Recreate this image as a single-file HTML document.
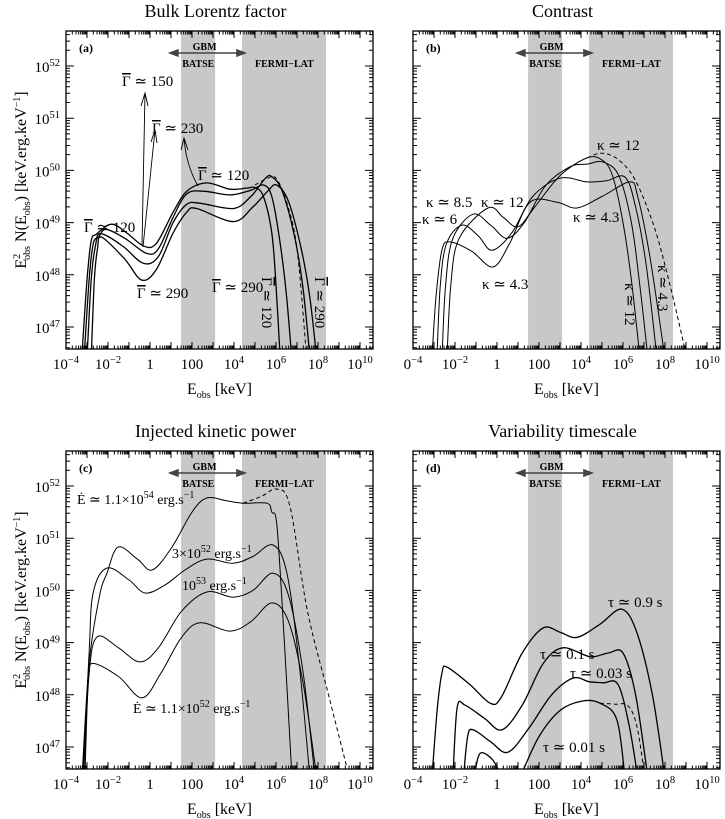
<!DOCTYPE html>
<html><head><meta charset="utf-8"><style>
html,body{margin:0;padding:0;background:#fff}
svg{display:block;font-family:"Liberation Serif",serif}
</style></head><body>
<svg id="fig" width="725" height="819" viewBox="0 0 725 819" xmlns="http://www.w3.org/2000/svg"></svg>
<script>
// ---- data (log10 E [keV], log10 E^2 N) ----
const bandBatse = [1.48, 3.10];
const bandFermi = [4.38, 8.38];
const xTickLabels = [-4,-2,0,2,4,6,8,10];
const yTickLabels = [47,48,49,50,51,52];

// panel a
const aG120E = [-3.25,-3.0,-2.8,-2.55,-1.83,-1.1,-0.3,0.3,1.1,1.75,2.7,3.8,4.6,5.0,5.4,5.8,6.0,6.2];
const aG120Y = [46.4,47.9,48.65,48.78,48.97,48.8,48.55,48.6,49.2,49.6,49.76,49.64,49.66,49.67,49.5,48.8,47.8,46.4];
const aG150E = [-3.14,-2.9,-2.7,-2.45,-2.1,-1.2,-0.16,0.4,1.1,1.75,2.6,3.8,4.8,5.4,5.8,6.2,6.5,6.75];
const aG150Y = [46.4,47.9,48.6,48.72,48.87,48.7,48.41,48.5,49.1,49.55,49.6,49.53,49.62,49.72,49.5,48.6,47.6,46.4];
const aG230E = [-3.0,-2.8,-2.6,-2.35,-1.3,-0.32,0.4,1.1,1.75,2.4,3.97,4.8,5.5,5.8,6.3,6.9,7.3,7.62];
const aG230Y = [46.4,47.9,48.55,48.79,48.55,48.22,48.35,49.0,49.35,49.37,49.27,49.5,49.85,49.88,49.6,48.7,47.7,46.4];
const aG290E = [-2.8,-2.65,-2.5,-2.3,-1.2,-0.4,0.3,1.1,1.75,2.22,3.97,4.9,5.6,6.03,6.6,7.2,7.6,7.94];
const aG290Y = [46.4,47.9,48.5,48.72,48.3,47.9,48.1,48.8,49.2,49.27,49.02,49.3,49.6,49.72,49.4,48.5,47.6,46.4];
const aDashE = [5.0,5.6,6.0,6.5,7.0,7.46];
const aDashY = [49.72,49.85,49.85,49.4,48.5,46.4];

// panel b
const bK43E = [-3.1,-2.9,-2.62,-2.24,-1.2,-0.19,0.6,1.57,2.86,3.81,5.0,6.33,6.7,7.3,8.0];
const bK43Y = [46.4,47.6,48.48,48.63,48.45,48.15,48.6,49.39,49.39,49.28,49.5,49.78,49.5,48.3,46.4];
const bK6E = [-2.86,-2.7,-2.4,-1.67,-0.9,-0.24,0.7,1.7,3.0,4.29,5.2,6.1,6.6,7.1,7.62];
const bK6Y = [46.4,47.8,48.6,48.95,48.75,48.47,48.8,49.5,49.85,49.78,49.8,49.87,49.3,48.2,46.4];
const bK85E = [-2.62,-2.45,-2.1,-1.14,-0.3,0.48,1.3,2.3,3.48,4.3,5.05,5.8,6.4,6.8,7.19];
const bK85Y = [46.4,47.8,48.7,49.16,48.95,48.7,49.0,49.7,50.07,50.12,50.16,49.9,49.0,47.8,46.4];
const bK12E = [-2.38,-2.2,-1.8,-0.43,0.3,1.0,1.8,3.0,4.29,5.0,5.5,6.0,6.4,6.81];
const bK12Y = [46.4,47.8,48.7,49.28,49.1,48.92,49.3,49.9,50.24,50.2,49.9,49.0,47.9,46.4];
const bDashE = [4.29,5.0,5.8,6.6,7.5,8.3,9.05];
const bDashY = [50.24,50.33,50.2,49.8,48.9,47.7,46.4];

// panel c
const cE54E = [-3.24,-2.9,-2.4,-2.05,-1.52,-0.6,0.1,1.0,2.0,2.7,3.6,4.43,5.57,5.8,6.05,6.4,6.76];
const cE54Y = [46.4,48.6,49.9,50.33,50.83,50.6,50.39,50.8,51.5,51.77,51.72,51.67,51.67,51.5,51.21,49.0,46.4];
const c3e52E = [-3.2,-2.9,-2.71,-2.05,-1.0,-0.24,0.7,1.7,2.71,3.95,4.9,5.86,6.52,7.1,7.62];
const c3e52Y = [46.4,48.8,49.95,50.43,50.2,49.95,50.1,50.4,50.6,50.52,50.65,50.87,50.33,48.6,46.4];
const c1e53E = [-3.16,-2.9,-2.52,-1.5,-0.48,0.4,1.5,2.71,3.95,4.9,5.86,6.6,7.3,7.86];
const c1e53Y = [46.4,48.4,49.11,48.9,48.63,48.9,49.6,49.97,49.87,50.0,50.33,49.9,48.4,46.4];
const c11e52E = [-3.1,-2.95,-2.76,-1.5,-0.38,0.5,1.5,2.38,3.81,4.8,5.81,6.6,7.3,7.95];
const c11e52Y = [46.4,48.2,48.6,48.35,47.94,48.4,49.1,49.38,49.22,49.4,49.76,49.4,48.2,46.4];
const cDashE = [4.43,5.3,6.05,6.67,7.5,8.5,9.38];
const cDashY = [51.67,51.8,51.94,51.6,49.6,48.0,46.6];

// panel d
const dT09E = [-3.1,-2.85,-2.62,-2.38,-1.3,-0.33,0.2,1.2,2.19,3.0,3.81,4.9,5.95,6.67,7.4,8.0];
const dT09Y = [46.4,47.7,48.42,48.53,48.2,47.84,47.95,48.8,49.28,49.2,49.1,49.35,49.64,49.18,48.0,46.4];
const dT01E = [-2.1,-1.9,-1.52,-0.6,0.24,1.2,2.2,3.14,4.43,5.3,6.0,6.6,7.19];
const dT01Y = [46.4,47.75,47.8,47.55,47.33,47.8,48.6,48.9,48.73,48.8,48.8,48.0,46.4];
const dT003E = [-1.6,-1.4,-1.14,-0.3,0.52,1.5,2.6,3.62,4.4,5.05,5.76,6.3,6.71];
const dT003Y = [46.4,47.2,47.33,47.1,46.9,47.35,48.0,48.32,48.25,48.23,48.2,47.4,46.4];
const dT001aE = [-1.1,-0.9,-0.67,-0.2,0.14];
const dT001aY = [46.4,46.8,46.89,46.75,46.5];
const dT001bE = [1.19,2.0,3.0,4.05,4.9,5.71,6.1];
const dT001bY = [46.5,47.2,47.7,47.88,47.84,47.52,46.4];
const dDashE = [4.9,5.6,6.24,6.67,7.05];
const dDashY = [47.84,47.82,47.79,47.38,46.4];

// ---- drawing ----
const NS = "http://www.w3.org/2000/svg";
const svg = document.getElementById('fig');
const PW = 307, PH = 318, XMIN = -4, XSC = 21, YSC = 52.2;
function mk(tag, attrs, parent){ const e=document.createElementNS(NS,tag); for(const k in attrs) e.setAttribute(k,attrs[k]); (parent||svg).appendChild(e); return e; }
function axes(p){
  return { X: v => p.L + (v - XMIN) * XSC, Y: v => p.T + 35 - (v - 52) * YSC };
}
function smoothPath(pts){
  let d = `M${pts[0][0].toFixed(1)},${pts[0][1].toFixed(1)}`;
  for(let i=0;i<pts.length-1;i++){
    const p0=pts[Math.max(0,i-1)],p1=pts[i],p2=pts[i+1],p3=pts[Math.min(pts.length-1,i+2)];
    const c1=[p1[0]+(p2[0]-p0[0])/6,p1[1]+(p2[1]-p0[1])/6];
    const c2=[p2[0]-(p3[0]-p1[0])/6,p2[1]-(p3[1]-p1[1])/6];
    d+=` C${c1[0].toFixed(1)},${c1[1].toFixed(1)} ${c2[0].toFixed(1)},${c2[1].toFixed(1)} ${p2[0].toFixed(1)},${p2[1].toFixed(1)}`;
  }
  return d;
}
function supText(g, x, y, base, sup, anchor, size){
  const t = mk('text',{x:x,y:y,'text-anchor':anchor||'middle','font-size':size||15,fill:'#000'},g);
  t.appendChild(document.createTextNode(base));
  if(sup!==null && sup!==undefined){ const s=mk('tspan',{dy:-6,'font-size':(size||15)*0.7},t); s.textContent=sup; }
  return t;
}
const panels = [
  {id:'a', L:66, T:31, title:'Bulk Lorentz factor', ylab:true, xfirst:'10'},
  {id:'b', L:413, T:31, title:'Contrast', ylab:false, xfirst:'0'},
  {id:'c', L:66, T:451, title:'Injected kinetic power', ylab:true, xfirst:'10'},
  {id:'d', L:413, T:451, title:'Variability timescale', ylab:false, xfirst:'0'}
];
const series = {
  a:[[aG120E,aG120Y,false,1.3],[aG150E,aG150Y,false,1.3],[aG230E,aG230Y,false,1.3],[aG290E,aG290Y,false,1.3],[aDashE,aDashY,true,1]],
  b:[[bK43E,bK43Y,false,1],[bK6E,bK6Y,false,1],[bK85E,bK85Y,false,1],[bK12E,bK12Y,false,1],[bDashE,bDashY,true,1]],
  c:[[cE54E,cE54Y,false,1],[c3e52E,c3e52Y,false,1],[c1e53E,c1e53Y,false,1],[c11e52E,c11e52Y,false,1],[cDashE,cDashY,true,1]],
  d:[[dT09E,dT09Y,false,1.3],[dT01E,dT01Y,false,1.3],[dT003E,dT003Y,false,1.3],[dT001aE,dT001aY,false,1.3],[dT001bE,dT001bY,false,1.3],[dDashE,dDashY,true,1]]
};
const seriesNames = {a:['gamma-120-curve','gamma-150-curve','gamma-230-curve','gamma-290-curve','dashed-curve'],
  b:['kappa-4.3-curve','kappa-6-curve','kappa-8.5-curve','kappa-12-curve','dashed-curve'],
  c:['power-1.1e54-curve','power-3e52-curve','power-1e53-curve','power-1.1e52-curve','dashed-curve'],
  d:['tau-0.9-curve','tau-0.1-curve','tau-0.03-curve','tau-0.01-curve','tau-0.01-tail-curve','dashed-curve']};

panels.forEach(p=>{
  const {X,Y} = axes(p);
  const g = mk('g',{});
  
  
  const R = p.L+PW, B = p.T+PH;
  const tt = mk('text',{x:p.L+PW/2-4,y:p.T-14,'text-anchor':'middle','font-size':18},g);
  tt.textContent = p.title;
  
  
  [bandBatse,bandFermi].forEach((bd,i)=>{
    const r = mk('rect',{x:X(bd[0]),y:p.T,width:X(bd[1])-X(bd[0]),height:PH,fill:'#c8c8c8'},g);
    
    
  });
  const cp = mk('clipPath',{id:'clip'+p.id},g);
  mk('rect',{x:p.L,y:p.T,width:PW,height:PH},cp);
  const cg = mk('g',{'clip-path':`url(#clip${p.id})`},g);
  series[p.id].forEach((s,i)=>{
    const pts = s[0].map((e,k)=>[X(e),Y(s[1][k])]);
    const path = mk('path',{d:smoothPath(pts),fill:'none',stroke:'#000','stroke-width':s[3],'stroke-dasharray':s[2]?'4,3':'none'},cg);
    
    
  });
  const fr = mk('rect',{x:p.L,y:p.T,width:PW,height:PH,fill:'none',stroke:'#000','stroke-width':1.3},g);
  
  
  let td='';
  for(let dec=-4; dec<=10; dec++){
    for(let m=1;m<10;m++){
      const v = dec+Math.log10(m); if(v>XMIN+PW/XSC) break;
      const x=X(v), len = m===1?7:3.5;
      td+=`M${x},${B}v${-len}M${x},${p.T}v${len}`;
    }
  }
  for(let dec=46; dec<=52; dec++){
    for(let m=1;m<10;m++){
      const v=dec+Math.log10(m); const y=Y(v);
      if(y<p.T||y>B) continue;
      const len = m===1?8:4;
      td+=`M${p.L},${y}h${len}M${R},${y}h${-len}`;
    }
  }
  const tk = mk('path',{d:td,stroke:'#000','stroke-width':1,fill:'none'},g);
  
  
  xTickLabels.forEach((v,i)=>{
    let t;
    if(v===0) { t = mk('text',{x:X(v),y:B+20,'text-anchor':'middle','font-size':15},g); t.textContent='1'; }
    else if(v===2) { t = mk('text',{x:X(v),y:B+20,'text-anchor':'middle','font-size':15},g); t.textContent='100'; }
    else { t = supText(g, X(v), B+20, (i===0?p.xfirst:'10'), (v<0?'\u2212'+(-v):String(v)), 'middle', 15); }
    
    
  });
  const xt = mk('text',{x:p.L+PW/2,y:B+45,'text-anchor':'middle','font-size':16},g);
  xt.appendChild(document.createTextNode('E'));
  const xs = mk('tspan',{dy:4,'font-size':10},xt); xs.textContent='obs';
  const xr = mk('tspan',{dy:-4},xt); xr.textContent=' [keV]';
  
  
  if(p.ylab){
    yTickLabels.forEach(v=>{
      const t = supText(g, p.L-6, Y(v)+6, '10', String(v), 'end', 15);
      
      
    });
    const cy = p.T+PH/2-10;
    const yt = mk('text',{x:0,y:0,'text-anchor':'middle','font-size':16,transform:`translate(26,${cy}) rotate(-90)`},g);
    yt.appendChild(document.createTextNode('E'));
    const a1=mk('tspan',{dy:-6,'font-size':10},yt); a1.textContent='2';
    const a2=mk('tspan',{dx:-6,dy:10,'font-size':10},yt); a2.textContent='obs';
    const a3=mk('tspan',{dy:-4},yt); a3.textContent=' N(E';
    const a4=mk('tspan',{dy:4,'font-size':10},yt); a4.textContent='obs';
    const a5=mk('tspan',{dy:-4},yt); a5.textContent=')  [keV.erg.keV';
    const a6=mk('tspan',{dy:-6,'font-size':10},yt); a6.textContent='\u22121';
    const a7=mk('tspan',{dy:6},yt); a7.textContent=']';
    
    
  }
  const gx1 = X(0.95), gx2 = X(4.52), gy = p.T+22;
  const ar = mk('path',{d:`M${gx1+6},${gy}H${gx2-6}M${gx1},${gy}l8,-3v6zM${gx2},${gy}l-8,-3v6z`,stroke:'#444','stroke-width':1.5,fill:'#444'},g);
  
  
  const gt = mk('text',{x:X(2.6),y:p.T+19,'text-anchor':'middle','font-size':10,'font-weight':'bold'},g); gt.textContent='GBM';
   
  const bt = mk('text',{x:X(2.3),y:p.T+36,'text-anchor':'middle','font-size':10,'font-weight':'bold'},g); bt.textContent='BATSE';
   
  const ft = mk('text',{x:X(6.4),y:p.T+36,'text-anchor':'middle','font-size':10,'font-weight':'bold'},g); ft.textContent='FERMI\u2212LAT';
   
  const pl = mk('text',{x:p.L+13,y:p.T+21,'font-size':12,'font-weight':'bold'},g); pl.textContent='('+p.id+')';
   
});

// ---- text annotations ----
function ann(x,y,txt,name,rot,size){
  const t = mk('text',{x:x,y:y,'font-size':size||15,transform:rot?`rotate(90 ${x} ${y})`:''});
  t.textContent = txt;
  
  
  return t;
}
function gam(x,y,val,name,rot){
  const t = mk('text',{x:x,y:y,'font-size':15,transform:rot?`rotate(90 ${x} ${y})`:''});
  const s = mk('tspan',{'text-decoration':'overline'},t); s.textContent='\u0393';
  const r = mk('tspan',{},t); r.textContent=' \u2243 '+val;
  
  
}
gam(122,86,'150','gamma-150-label');
gam(152,133,'230','gamma-230-label');
gam(198,180,'120','gamma-120-top-label');
gam(84,232,'120','gamma-120-left-label');
gam(137,298,'290','gamma-290-bottom-label');
gam(212,292,'290','gamma-290-mid-label');
gam(262,277,'120','gamma-120-cutoff-label',true);
gam(315,277,'290','gamma-290-cutoff-label',true);
const arw = mk('path',{d:'M142,245L145,93M141,106l4,-13l3,13M143,247L155,130M151,142l4,-12l2,13M198,186Q186,165 184,138M181,150l3,-12l4,12',stroke:'#000','stroke-width':0.9,fill:'none'});


const K='\u03ba \u2243 ';
ann(597,150,K+'12','kappa-12-top-label');
ann(426,207,K+'8.5','kappa-8.5-label');
ann(422,224,K+'6','kappa-6-label');
ann(481,207,K+'12','kappa-12-left-label');
ann(573,222,K+'4.3','kappa-4.3-upper-label');
ann(482,289,K+'4.3','kappa-4.3-lower-label');
ann(625,283,K+'12','kappa-12-cutoff-label',true);
ann(658,265,K+'4.3','kappa-4.3-cutoff-label',true);
function annSup(x,y,parts,name){
  const t = mk('text',{x:x,y:y,'font-size':14});
  parts.forEach(pt=>{ const s=mk('tspan',pt[1]?{dy:pt[1],'font-size':pt[2]||14}:{},t); s.textContent=pt[0]; });
  
  
}
annSup(77,504,[['E\u0307 \u2243 1.1\u00d710'],['54',-6,10],[' erg.s',6],['\u22121',-6,10]],'power-1.1e54-label');
annSup(172,558,[['3\u00d710'],['52',-6,10],[' erg.s',6],['\u22121',-6,10]],'power-3e52-label');
annSup(182,590,[['10'],['53',-6,10],[' erg.s',6],['\u22121',-6,10]],'power-1e53-label');
annSup(133,713,[['E\u0307 \u2243 1.1\u00d710'],['52',-6,10],[' erg.s',6],['\u22121',-6,10]],'power-1.1e52-label');
const T='\u03c4 \u2243 ';
ann(608,607,T+'0.9  s','tau-0.9-label');
ann(540,659,T+'0.1  s','tau-0.1-label');
ann(570,678,T+'0.03  s','tau-0.03-label');
ann(543,752,T+'0.01  s','tau-0.01-label');
</script>
</body></html>
